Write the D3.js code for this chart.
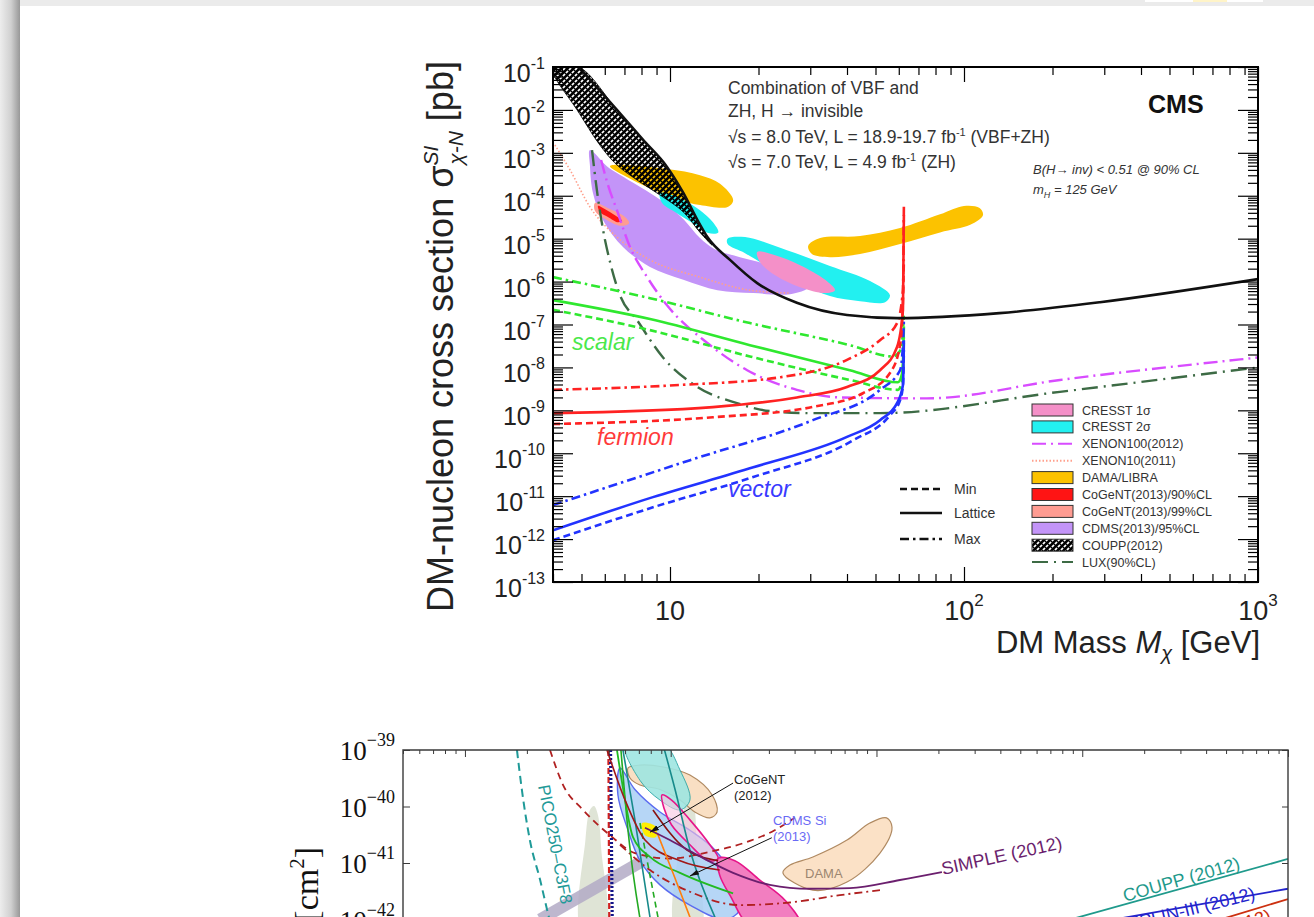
<!DOCTYPE html>
<html>
<head>
<meta charset="utf-8">
<script src="https://cdn.jsdelivr.net/npm/d3@7"></script>
<style>
  html, body { margin: 0; padding: 0; background: #ebebeb; overflow: hidden; }
  svg { display: block; }
  .sans { font-family: "Liberation Sans", Arial, Helvetica, sans-serif; }
  .serif { font-family: "Liberation Serif", "Times New Roman", serif; }
</style>
</head>
<body>
<svg id="page" width="1314" height="917"></svg>
<script>
// ===== upper panel (CMS, H -> invisible): [mass GeV, sigma pb] =====
const cmsObserved = [[4.9,1e-1],[6.6,1e-2],[8.1,2e-3],[9.77,4.7e-4],[11.1,1.16e-4],[12.4,2.7e-5],[13.4,1.09e-5],[16,3.2e-6],[19.8,9.2e-7],[27,3.2e-7],[40,1.66e-7],[59.2,1.41e-7],[132,1.84e-7],[290,3.3e-7],[1000,1.14e-6]];
const couppBand = [[4,0.1],[4.9,0.1],[6.6,1e-2],[8.1,2e-3],[9.77,4.7e-4],[11.1,1.16e-4],[12.4,2.7e-5],[13.4,1.09e-5],[13.9,7.1e-6],[12.65,1.4e-5],[11.1,4.2e-5],[9.25,1.04e-4],[7.9,2.1e-4],[6.6,5.2e-4],[5.78,1.5e-3],[4.83,1e-2],[4,7.2e-2]];
const damaLow = [[6.25,4.9e-4],[9.77,4.2e-4],[12.65,3e-4],[14.8,1.9e-4],[16.4,7.9e-5],[15.7,5.5e-5],[12.65,6.1e-5],[10.8,7.9e-5],[8.55,1.5e-4],[7.03,2.9e-4]];
const damaHigh = [[29.5,6.7e-6],[32.4,1.03e-5],[44.3,1.15e-5],[60.6,1.77e-5],[82.9,3.7e-5],[100,5.8e-5],[113,5.2e-5],[116,3.5e-5],[105,2.1e-5],[82.9,1.4e-5],[60.6,7.5e-6],[44.3,4.4e-6],[35,3.7e-6],[30.4,4.4e-6]];
const cdms2013 = [[5.34,1.16e-3],[6.1,4.9e-4],[6.6,3.4e-4],[8.55,1.16e-4],[10,5.5e-5],[11.2,2.7e-5],[12.65,1.03e-5],[14.2,5.7e-6],[17.3,3.7e-6],[21.9,2.4e-6],[26.6,1.4e-6],[29.5,7.4e-7],[25.6,5.1e-7],[19.2,5.4e-7],[14.5,6.3e-7],[11.1,1.1e-6],[8.55,2.2e-6],[6.92,6.4e-6],[5.92,2.7e-5],[5.47,1.16e-4],[5.34,5.2e-4]];
const cresst2Low = [[9.25,1.16e-4],[10.8,8.8e-5],[12.65,4.6e-5],[14,2.4e-5],[14.6,1.4e-5],[13.5,1.35e-5],[12.2,2.1e-5],[10.4,4.2e-5],[9.4,6.8e-5]];
const cresst2High = [[15.7,1e-5],[18,1.09e-5],[25,5.4e-6],[35,2.3e-6],[47.9,1.03e-6],[56,4.8e-7],[53.9,3.3e-7],[44.3,3.5e-7],[35,4.6e-7],[27.7,9.2e-7],[21.9,2.1e-6],[18,4.6e-6],[15.7,7.5e-6]];
const cresst1 = [[19.8,4.9e-6],[22.8,4.1e-6],[27.7,2.4e-6],[33.7,1.1e-6],[36.4,6.3e-7],[33.7,5.4e-7],[27.7,7.4e-7],[22.8,1.4e-6],[20.2,2.9e-6]];
const cogent90 = [[5.69,5.8e-5],[6.0,4.9e-5],[6.5,3.5e-5],[6.87,2.6e-5],[6.66,2.4e-5],[6.15,3.2e-5],[5.78,4.2e-5]];
const cogent99 = [[5.56,6.8e-5],[6.25,4.9e-5],[7.03,3.2e-5],[7.26,2.3e-5],[6.76,2e-5],[6.0,2.9e-5],[5.56,4.4e-5]];
const xenon10 = [[4.06,1.52e-3],[4.57,4e-4],[5.34,5.5e-5],[6.6,1.09e-5],[8.55,3.2e-6],[12.65,1.27e-6],[18.7,6.3e-7],[25.6,5.4e-7]];
const xenon100 = [[5.83,6.8e-4],[6.15,1.8e-4],[6.6,4.6e-5],[7.31,6.4e-6],[8.36,1.27e-6],[9.77,2.8e-7],[13.4,3.7e-8],[18.3,8.6e-9],[27,3e-9],[37.9,2e-9],[74.8,1.9e-9],[212,5.1e-9],[1000,1.7e-8]];
const lux = [[5.43,1.16e-3],[5.64,1.36e-4],[5.92,1.6e-5],[6.25,2.9e-6],[6.76,4.8e-7],[7.72,1.27e-7],[9.47,1.7e-8],[12.4,3.5e-9],[16.9,1.47e-9],[21.9,9.6e-10],[30.6,8.6e-10],[51.8,8.6e-10],[212,2.7e-9],[1000,1e-8]];
const scalarMin = [[4,2.2e-7],[8.55,7.4e-8],[18.7,1.8e-8],[40.9,5.1e-9],[59.6,3e-9],[61.5,4.5e-9],[62.2,1.5e-8],[62.45,5e-8]];
const scalarLattice = [[4,3.7e-7],[8.55,1.34e-7],[18.7,3.3e-8],[40.9,8.6e-9],[59.6,4.5e-9],[61.5,7e-9],[62.2,2.5e-8],[62.45,9e-8]];
const scalarMax = [[4,1.27e-6],[8.55,4.1e-7],[18.7,1.08e-7],[40.9,3.3e-8],[57.3,1.8e-8],[61,2.6e-8],[62,7e-8],[62.4,1.6e-7]];
const fermionMin = [[4,4.8e-10],[14,6.9e-10],[30.6,1.2e-9],[45.3,2.5e-9],[56,7.4e-9],[60.6,3.3e-8],[62,3.7e-7],[62.45,3.2e-6]];
const fermionLattice = [[4,8.6e-10],[14,1.19e-9],[27,2e-9],[40,3.5e-9],[51.8,8.6e-9],[59.2,3e-8],[62,2.2e-7],[62.45,3.5e-5]];
const fermionMax = [[4,3e-9],[10.8,3.9e-9],[23.7,5.9e-9],[40,1.5e-8],[51.8,4.3e-8],[59.2,1.08e-7],[62,6.3e-7],[62.45,6e-5]];
const vectorMin = [[4,9.4e-13],[8.75,5.5e-12],[19.2,2.8e-11],[41.9,2e-10],[56,7.7e-10],[60.6,1.7e-9],[62,3.9e-9],[62.45,2.5e-8]];
const vectorLattice = [[4,1.6e-12],[8.75,9.5e-12],[19.2,4.7e-11],[40,2.4e-10],[51.8,5.9e-10],[59.2,1.47e-9],[62,3.9e-9],[62.45,4.3e-8]];
const vectorMax = [[4,6.2e-12],[11.7,6.9e-11],[30.6,5.9e-10],[51.8,3e-9],[60.6,8.6e-9],[62,3.3e-8],[62.45,1.27e-7]];

const xTicks1 = [[10, "10", ""], [100, "10", "2"], [1000, "10", "3"]];
const yTickPowers1 = [-1, -2, -3, -4, -5, -6, -7, -8, -9, -10, -11, -12, -13];
const legendLabels = ["CRESST 1σ", "CRESST 2σ", "XENON100(2012)", "XENON10(2011)", "DAMA/LIBRA",
  "CoGeNT(2013)/90%CL", "CoGeNT(2013)/99%CL", "CDMS(2013)/95%CL", "COUPP(2012)", "LUX(90%CL)"];
const styleLabels = ["Min", "Lattice", "Max"];

// ===== lower panel (spin-dependent, partly visible): [mass GeV, sigma cm^2] =====
const pico250 = [[1.79,1e-39],[1.89,2e-40],[2.07,2.5e-41],[2.32,5e-42],[2.53,1.3e-42],[2.74,4.3e-43]];
const greyBlobA = [[3.7,6e-43],[3.85,2.55e-41],[4.05,8.7e-41],[4.24,1.02e-40],[4.43,7.1e-41],[4.6,1.7e-41],[4.8,6e-43]];
const greyBlobB = [[10.6,6e-43],[11.1,2.55e-41],[11.9,1.3e-40],[12.4,1.6e-40],[13,1.02e-40],[13.4,1.7e-41],[13.9,6e-43]];
const greyBand = [[2.32,1e-42],[7.9,1.28e-41]];
const beigeUpper = [[6.2,4.8e-40],[7.09,5.4e-40],[9.2,5e-40],[12.4,3.6e-40],[15.9,1.6e-40],[16.8,8e-41],[15.5,6.3e-41],[13.1,8e-41],[11.1,1.3e-40],[8.87,2e-40],[7.09,2.4e-40],[6.34,3.2e-40]];
const damaSD = [[35.1,6.7e-42],[49.1,3.3e-42],[71.9,4.6e-42],[104,1.5e-41],[119,4.3e-41],[112,6.3e-41],[92.9,5.1e-41],[71.9,2.55e-41],[49.1,1.28e-41],[38,9.2e-42]];
const cyanSD = [[6.0,1.3e-39],[9.2,1.3e-39],[11.1,4.4e-40],[12.4,1.3e-40],[11.1,8.7e-41],[8.87,1.3e-40],[7.09,2.9e-40]];
const cdmsSi = [[5.67,4.8e-40],[6.7,2e-40],[8.87,8e-41],[12.4,3.8e-41],[16.4,1.7e-41],[20.5,5e-42],[21.7,1.5e-42],[18.3,1e-42],[12.4,1.8e-42],[8.87,4.1e-42],[7.09,1.1e-41],[6.2,3.8e-41],[5.54,1.6e-40]];
const pinkOutline = [[9.07,1.6e-40],[10.1,1.3e-40],[12.4,5.8e-41],[15.5,2.1e-41],[17,1.2e-41],[15.2,1.1e-41],[12.4,2.1e-41],[10.1,4.7e-41],[9.27,9.4e-41]];
const pinkFilled = [[17,1.2e-41],[20.5,1.1e-41],[27.1,5e-42],[35.9,2.2e-42],[42.5,8e-43],[24.3,8e-43],[19.4,2.7e-42],[17.3,6.1e-42]];
const yellowSpot = [[7.25,5.1e-41],[8.4,4.5e-41],[8.5,2.9e-41],[7.5,3.1e-41]];
const navyDotted = [[5.1,1e-39],[5.2,8e-43]];
const redDashedVert = [[4.98,1e-39],[5.03,8e-43]];
const darkRedDashed = [[2.59,1e-39],[3.0,2.4e-40],[3.75,8.7e-41],[5.07,3.1e-41],[6.7,1.5e-41],[9.9,1.2e-41],[15.5,1.58e-41],[23,2.3e-41],[32,3.8e-41],[40,6.3e-41]];
const darkRedDashDot = [[5.67,2.1e-41],[7.93,7.5e-42],[12.4,3.1e-42],[21.7,1.8e-42],[38,2e-42],[66.4,2.7e-42],[104,3.3e-42]];
const greenA = [[5.73,1e-39],[6.2,3.8e-41],[7.25,6.5e-43]];
const greenB = [[5.48,1e-39],[6.0,1.3e-40],[6.55,2.9e-41],[7.93,1.28e-41],[11.1,6.7e-42],[20.1,2.9e-42]];
const greenDashed = [[7.09,5.1e-41],[8.67,1.1e-42]];
const tealA = [[9.2,1.2e-39],[10.5,2e-40],[12.4,1.7e-41],[16.4,1.1e-42]];
const tealB = [[5.86,1e-39],[6.7,5.8e-41],[7.93,1.1e-42]];
const maroonA = [[4.9,1e-39],[6.0,1.3e-40],[7.5,2.55e-41],[11.1,1.1e-41],[17.3,7.5e-42]];
const maroonB = [[8.2,8.7e-41],[12,1.7e-41],[17,1.1e-41]];
const orangeSD = [[8.6,3.4e-41],[10.25,6.7e-42],[12.4,1.1e-42]];
const simple2012 = [[7.5,4.2e-41],[9.9,2.55e-41],[13.4,1.4e-41],[20.1,6.7e-42],[30.3,4.1e-42],[47.5,3.5e-42],[74.3,3.6e-42],[130,5e-42],[208,6.9e-42]];
const coupp2012 = [[398,4.5e-43],[10000,1.18e-41]];
const zeplin2012 = [[697,6.3e-43],[10000,3.5e-42]];
const xenonSD = [[2133,4.2e-43],[10000,2.3e-42]];
const cogentArrow = [[20.1,2.6e-40],[7.93,3.5e-41]];
const cdmsArrow = [[31,2.8e-41],[12.4,5.9e-42]];
const yTickPowers2 = [-39, -40, -41, -42];

// ===== page =====
const svg = d3.select("#page");
const W = +svg.attr("width"), H = +svg.attr("height");
const defs = svg.append("defs");

const shade = defs.append("linearGradient").attr("id", "leftShade");
[["0", "#ededed"], ["0.55", "#d0d0d0"], ["1", "#989898"]].forEach(([o, c]) =>
  shade.append("stop").attr("offset", o).attr("stop-color", c));
svg.append("rect").attr("width", W).attr("height", H).attr("fill", "#ebebeb");
svg.append("rect").attr("width", 20).attr("height", H).attr("fill", "url(#leftShade)");
svg.append("rect").attr("x", 1145).attr("width", 118).attr("height", 2).attr("fill", "#fff");
svg.append("rect").attr("x", 1193).attr("width", 34).attr("height", 2).attr("fill", "#fff4c8");
svg.append("rect").attr("x", 20).attr("y", 6).attr("width", W - 20).attr("height", H - 6).attr("fill", "#fff");

// COUPP hatch: black cross-hatch with transparent holes so fills underneath show through
const hatch = defs.append("pattern").attr("id", "hatch")
  .attr("patternUnits", "userSpaceOnUse").attr("width", 6).attr("height", 6);
hatch.append("path").attr("d", "M0,6L6,0M-1,1L1,-1M5,7L7,5").attr("stroke", "#000").attr("stroke-width", 2.6);
hatch.append("path").attr("d", "M0,0L6,6M5,-1L7,1M-1,5L1,7").attr("stroke", "#000").attr("stroke-width", 1.3);

const arrow = defs.append("marker").attr("id", "arrow").attr("viewBox", "0 0 10 6")
  .attr("refX", 10).attr("refY", 3).attr("markerWidth", 9).attr("markerHeight", 6)
  .attr("markerUnits", "userSpaceOnUse").attr("orient", "auto");
arrow.append("path").attr("d", "M0,0L10,3L0,6Z").attr("fill", "#111");

function isDecade(v) { const l = Math.log10(v); return Math.abs(l - Math.round(l)) < 1e-6; }

function tickAxis(g, axisFn, scale, values, size) {
  g.call(axisFn(scale).tickValues(values).tickSize(size).tickFormat(""))
    .call(a => a.select(".domain").remove());
}

function drawPath(g, gen, data, fill, stroke, width, dash) {
  return g.append("path").datum(data).attr("d", gen)
    .attr("fill", fill || "none").attr("stroke", stroke || "none")
    .attr("stroke-width", width || 0).attr("stroke-dasharray", dash || null);
}

// ===== upper panel =====
const p1 = { left: 553, right: 1258, top: 67, bottom: 582 };
const x1 = d3.scaleLog().domain([4, 1000]).range([p1.left, p1.right]);
const y1 = d3.scaleLog().domain([1e-13, 1e-1]).range([p1.bottom, p1.top]);
defs.append("clipPath").attr("id", "clip1").append("rect")
  .attr("x", p1.left).attr("y", p1.top).attr("width", p1.right - p1.left).attr("height", p1.bottom - p1.top);

const g1 = svg.append("g").attr("class", "sans");
const plot1 = g1.append("g").attr("clip-path", "url(#clip1)");
const curve1 = d3.line().x(d => x1(d[0])).y(d => y1(d[1])).curve(d3.curveMonotoneX);
const blob1 = d3.line().x(d => x1(d[0])).y(d => y1(d[1])).curve(d3.curveCatmullRomClosed.alpha(0.5));

const colors = {
  dama: "#fcc200", cdms: "#c394f8", cresst2: "#22f0f0", cresst1: "#f490c8",
  cogent90: "#ff1414", cogent99: "#ff9c92", xenon100: "#d84cff", xenon10: "#ffa08c",
  lux: "#3d6b45", scalar: "#2fe82f", fermion: "#ff2222", vector: "#2233ff"
};
const dashMin = "7,4", dashMax = "9,4,2.5,4";

drawPath(plot1, blob1, damaLow, colors.dama);
drawPath(plot1, blob1, damaHigh, colors.dama);
drawPath(plot1, blob1, cdms2013, colors.cdms);
drawPath(plot1, blob1, cresst2Low, colors.cresst2);
drawPath(plot1, blob1, cresst2High, colors.cresst2);
drawPath(plot1, blob1, cresst1, colors.cresst1);
drawPath(plot1, blob1, cogent99, colors.cogent99);
drawPath(plot1, blob1, cogent90, colors.cogent90);
drawPath(plot1, blob1, couppBand, "url(#hatch)", "#000", 0.8);

drawPath(plot1, curve1, xenon10, null, colors.xenon10, 1.6, "1.5,2");
drawPath(plot1, curve1, xenon100, null, colors.xenon100, 2.4, "14,5,2,5");
drawPath(plot1, curve1, lux, null, colors.lux, 2.4, "16,6,2,6");

[[scalarMax, "scalar", dashMax], [scalarLattice, "scalar", null], [scalarMin, "scalar", dashMin],
 [vectorMax, "vector", dashMax], [vectorLattice, "vector", null], [vectorMin, "vector", dashMin],
 [fermionMax, "fermion", dashMax], [fermionLattice, "fermion", null], [fermionMin, "fermion", dashMin]]
  .forEach(([d, c, dash]) => drawPath(plot1, curve1, d, null, colors[c], 2.6, dash));

drawPath(plot1, curve1, cmsObserved, null, "#111", 2.6);

// frame and ticks
g1.append("rect").attr("x", p1.left).attr("y", p1.top)
  .attr("width", p1.right - p1.left).attr("height", p1.bottom - p1.top)
  .attr("fill", "none").attr("stroke", "#000").attr("stroke-width", 2);
const xAll1 = x1.ticks(), yAll1 = y1.ticks(20);
const xMaj1 = xAll1.filter(isDecade), xMin1 = xAll1.filter(v => !isDecade(v));
const yMaj1 = yAll1.filter(isDecade), yMin1 = yAll1.filter(v => !isDecade(v));
const axes1 = g1.append("g").attr("color", "#000").attr("stroke-width", 1.2);
tickAxis(axes1.append("g").attr("transform", `translate(0,${p1.bottom})`), d3.axisBottom, x1, xMaj1, -15);
tickAxis(axes1.append("g").attr("transform", `translate(0,${p1.bottom})`), d3.axisBottom, x1, xMin1, -8);
tickAxis(axes1.append("g").attr("transform", `translate(0,${p1.top})`), d3.axisTop, x1, xMaj1, -15);
tickAxis(axes1.append("g").attr("transform", `translate(0,${p1.top})`), d3.axisTop, x1, xMin1, -8);
tickAxis(axes1.append("g").attr("transform", `translate(${p1.left},0)`), d3.axisLeft, y1, yMaj1, -20);
tickAxis(axes1.append("g").attr("transform", `translate(${p1.left},0)`), d3.axisLeft, y1, yMin1, -10);
tickAxis(axes1.append("g").attr("transform", `translate(${p1.right},0)`), d3.axisRight, y1, yMaj1, -20);
tickAxis(axes1.append("g").attr("transform", `translate(${p1.right},0)`), d3.axisRight, y1, yMin1, -10);

// tick labels
yTickPowers1.forEach(p => {
  const t = g1.append("text").attr("x", 545).attr("y", y1(Math.pow(10, p)) + 15)
    .attr("text-anchor", "end").attr("fill", "#222");
  t.append("tspan").attr("font-size", 25).text("10");
  t.append("tspan").attr("font-size", 16).attr("dy", -13).text(String(p));
});
xTicks1.forEach(([v, base, exp]) => {
  const t = g1.append("text").attr("x", x1(v)).attr("y", 620)
    .attr("text-anchor", "middle").attr("fill", "#222");
  t.append("tspan").attr("font-size", 27).text(base);
  if (exp) t.append("tspan").attr("font-size", 17).attr("dy", -14).text(exp);
});

// axis titles
const xt = g1.append("text").attr("x", 1260).attr("y", 653).attr("text-anchor", "end")
  .attr("font-size", 31).attr("fill", "#222");
xt.append("tspan").text("DM Mass ");
xt.append("tspan").attr("font-style", "italic").text("M");
xt.append("tspan").attr("font-style", "italic").attr("font-size", 20).attr("dy", 7).text("χ");
xt.append("tspan").attr("dy", -7).text(" [GeV]");

const yt = g1.append("text").attr("transform", "translate(453,612) rotate(-90)")
  .attr("font-size", 36).attr("fill", "#222");
yt.append("tspan").text("DM-nucleon cross section σ");
yt.append("tspan").attr("font-size", 21).attr("font-style", "italic").attr("dy", -15).text("SI");
yt.append("tspan").attr("font-size", 21).attr("font-style", "italic").attr("dx", -19).attr("dy", 25).text("χ-N");
yt.append("tspan").attr("dy", -10).text(" [pb]");

// annotations
const ann = g1.append("g").attr("font-size", 17.5).attr("fill", "#333");
ann.append("text").attr("x", 728).attr("y", 94).text("Combination of VBF and");
ann.append("text").attr("x", 728).attr("y", 117).text("ZH, H → invisible");
[[143, "8.0", "18.9-19.7", " (VBF+ZH)"], [168, "7.0", "4.9", " (ZH)"]].forEach(([yy, e, l, tag]) => {
  const t = ann.append("text").attr("x", 728).attr("y", yy);
  t.append("tspan").text(`√s = ${e} TeV, L = ${l} fb`);
  t.append("tspan").attr("font-size", 11).attr("dy", -7).text("-1");
  t.append("tspan").attr("dy", 7).text(tag);
});
g1.append("text").attr("x", 1148).attr("y", 113).attr("font-size", 25).attr("font-weight", "bold")
  .attr("fill", "#111").text("CMS");
const br = g1.append("g").attr("font-size", 13).attr("font-style", "italic").attr("fill", "#333");
br.append("text").attr("x", 1033).attr("y", 174).text("B(H→ inv) < 0.51 @ 90% CL");
const mh = br.append("text").attr("x", 1033).attr("y", 194);
mh.append("tspan").text("m");
mh.append("tspan").attr("font-size", 9).attr("dy", 4).text("H");
mh.append("tspan").attr("dy", -4).text(" = 125 GeV");

g1.append("text").attr("x", 572).attr("y", 350).attr("font-size", 23).attr("font-style", "italic")
  .attr("fill", "#4be84b").text("scalar");
g1.append("text").attr("x", 597).attr("y", 445).attr("font-size", 23).attr("font-style", "italic")
  .attr("fill", "#ff3a3a").text("fermion");
g1.append("text").attr("x", 728).attr("y", 497).attr("font-size", 23).attr("font-style", "italic")
  .attr("fill", "#3a3aff").text("vector");

// legends
const legendStyle = [
  { fill: colors.cresst1 }, { fill: colors.cresst2 },
  { stroke: colors.xenon100, dash: "14,5,2,5" }, { stroke: colors.xenon10, dash: "1.5,2" },
  { fill: colors.dama }, { fill: colors.cogent90 }, { fill: colors.cogent99 },
  { fill: colors.cdms }, { fill: "url(#hatch)" }, { stroke: colors.lux, dash: "16,6,2,6" }
];
const leg = g1.append("g");
legendLabels.forEach((lab, i) => {
  const yy = 410 + i * 16.9, s = legendStyle[i];
  if (s.fill) {
    leg.append("rect").attr("x", 1032).attr("y", yy - 6).attr("width", 41).attr("height", 12)
      .attr("fill", s.fill).attr("stroke", "#333").attr("stroke-width", 1);
  } else {
    leg.append("line").attr("x1", 1032).attr("x2", 1073).attr("y1", yy).attr("y2", yy)
      .attr("stroke", s.stroke).attr("stroke-width", 2).attr("stroke-dasharray", s.dash);
  }
  leg.append("text").attr("x", 1082).attr("y", yy + 4.5).attr("font-size", 12.5)
    .attr("fill", "#333").text(lab);
});
styleLabels.forEach((lab, i) => {
  const yy = [489, 513, 539][i];
  leg.append("line").attr("x1", 900).attr("x2", 942).attr("y1", yy).attr("y2", yy)
    .attr("stroke", "#111").attr("stroke-width", 2.6)
    .attr("stroke-dasharray", [dashMin, null, dashMax][i]);
  leg.append("text").attr("x", 954).attr("y", yy + 5).attr("font-size", 14)
    .attr("fill", "#333").text(lab);
});

// ===== lower panel =====
const p2 = { left: 403, right: 1288, top: 750, bottom: 1145.5 };
const x2 = d3.scaleLog().domain([0.5, 1e4]).range([p2.left, p2.right]);
const y2 = d3.scaleLog().domain([1e-46, 1e-39]).range([p2.bottom, p2.top]);
defs.append("clipPath").attr("id", "clip2").append("rect")
  .attr("x", p2.left).attr("y", p2.top).attr("width", p2.right - p2.left).attr("height", H - p2.top);

const g2 = svg.append("g").attr("class", "sans");
const plot2 = g2.append("g").attr("clip-path", "url(#clip2)");
const curve2 = d3.line().x(d => x2(d[0])).y(d => y2(d[1])).curve(d3.curveMonotoneX);
const straight2 = d3.line().x(d => x2(d[0])).y(d => y2(d[1]));
const blob2 = d3.line().x(d => x2(d[0])).y(d => y2(d[1])).curve(d3.curveCatmullRomClosed.alpha(0.5));

drawPath(plot2, blob2, greyBlobA, "#dfe4d6");
drawPath(plot2, blob2, greyBlobB, "#dfe4d6");
drawPath(plot2, straight2, greyBand, null, "#b3aac6", 12).attr("opacity", 0.85);
drawPath(plot2, blob2, beigeUpper, "#f9dfc3", "#b08a62", 1.2);
drawPath(plot2, blob2, damaSD, "#fbe1c6", "#b08a62", 1.2);
drawPath(plot2, blob2, cyanSD, "#9fe6e2", "#2ba7a7", 1).attr("opacity", 0.9);
drawPath(plot2, blob2, cdmsSi, "#a9cff5", "#5b6cf0", 1.4).attr("fill-opacity", 0.85);
drawPath(plot2, blob2, pinkOutline, "#f8c4df", "#e6168a", 1.6).attr("fill-opacity", 0.6);
drawPath(plot2, blob2, pinkFilled, "#f27ec0", "#e6168a", 1.6);
drawPath(plot2, blob2, yellowSpot, "#ffee00");

drawPath(plot2, curve2, pico250, null, "#1f9a98", 2, "8,5");
drawPath(plot2, curve2, darkRedDashed, null, "#b02020", 1.8, "7,5");
drawPath(plot2, curve2, darkRedDashDot, null, "#b02020", 1.8, "8,4,2,4");
drawPath(plot2, straight2, redDashedVert, null, "#d02020", 2.2, "6,3");
drawPath(plot2, straight2, navyDotted, null, "#141488", 3.2, "2,2");
drawPath(plot2, curve2, tealB, null, "#178a8a", 1.6);
drawPath(plot2, curve2, tealA, null, "#178a8a", 1.6);
drawPath(plot2, curve2, greenA, null, "#22aa22", 1.6);
drawPath(plot2, curve2, greenB, null, "#22bb22", 1.8);
drawPath(plot2, straight2, greenDashed, null, "#22aa22", 1.6, "6,4");
drawPath(plot2, curve2, maroonA, null, "#a01818", 1.6);
drawPath(plot2, curve2, maroonB, null, "#8a1010", 1.6);
drawPath(plot2, curve2, orangeSD, null, "#ff7f0e", 1.6);
drawPath(plot2, curve2, simple2012, null, "#6b1f6e", 1.8);
drawPath(plot2, straight2, coupp2012, null, "#1f9a8c", 1.8);
drawPath(plot2, straight2, zeplin2012, null, "#2424cc", 1.8);
drawPath(plot2, straight2, xenonSD, null, "#cc3010", 1.8);

drawPath(g2, straight2, cogentArrow, null, "#111", 1).attr("marker-end", "url(#arrow)");
drawPath(g2, straight2, cdmsArrow, null, "#111", 1).attr("marker-end", "url(#arrow)");

// frame and ticks
g2.append("path").attr("d", `M${p2.left},${H}V${p2.top}H${p2.right}V${H}`)
  .attr("fill", "none").attr("stroke", "#3a3a3a").attr("stroke-width", 1.4);
const xAll2 = x2.ticks();
const axes2 = g2.append("g").attr("color", "#3a3a3a").attr("stroke-width", 1);
tickAxis(axes2.append("g").attr("transform", `translate(0,${p2.top})`), d3.axisTop, x2, xAll2.filter(isDecade), -7);
tickAxis(axes2.append("g").attr("transform", `translate(0,${p2.top})`), d3.axisTop, x2, xAll2.filter(v => !isDecade(v)), -4);
const yMaj2 = yTickPowers2.map(p => Math.pow(10, p));
tickAxis(axes2.append("g").attr("transform", `translate(${p2.left},0)`), d3.axisLeft, y2, yMaj2, -7);
tickAxis(axes2.append("g").attr("transform", `translate(${p2.right},0)`), d3.axisRight, y2, yMaj2, -6);

yTickPowers2.forEach(p => {
  const t = g2.append("text").attr("class", "serif").attr("x", 395).attr("y", y2(Math.pow(10, p)) + 10)
    .attr("text-anchor", "end").attr("fill", "#111");
  t.append("tspan").attr("font-size", 27).text("10");
  t.append("tspan").attr("font-size", 18).attr("dy", -14).text("−" + String(-p));
});
const yt2 = g2.append("text").attr("class", "serif").attr("transform", "translate(318,847) rotate(-90)")
  .attr("text-anchor", "end").attr("font-size", 34).attr("fill", "#111");
yt2.append("tspan").text("[cm");
yt2.append("tspan").attr("font-size", 21).attr("dy", -14).text("2");
yt2.append("tspan").attr("dy", 14).text("]");

// lower panel labels
const lab2 = g2.append("g").attr("font-size", 13);
lab2.append("text").attr("x", 734).attr("y", 784).attr("fill", "#222").text("CoGeNT");
lab2.append("text").attr("x", 734).attr("y", 800).attr("fill", "#222").text("(2012)");
lab2.append("text").attr("x", 773).attr("y", 825).attr("fill", "#6a6af5").text("CDMS Si");
lab2.append("text").attr("x", 773).attr("y", 841).attr("fill", "#6a6af5").text("(2013)");
lab2.append("text").attr("x", 805).attr("y", 878).attr("fill", "#9c8670").text("DAMA");
g2.append("text").attr("transform", "translate(538,786) rotate(79)").attr("font-size", 17)
  .attr("fill", "#1f9a98").text("PICO250–C3F8");
g2.append("text").attr("transform", "translate(943,875) rotate(-12.5)").attr("font-size", 18)
  .attr("fill", "#6b1f6e").text("SIMPLE (2012)");
g2.append("text").attr("transform", "translate(1125,902) rotate(-16)").attr("font-size", 18)
  .attr("fill", "#1f9a8c").text("COUPP (2012)");
g2.append("text").attr("transform", "translate(1256,899) rotate(-14)").attr("text-anchor", "end")
  .attr("font-size", 18).attr("fill", "#2424cc").text("ZEPLIN-III (2012)");
g2.append("text").attr("transform", "translate(1272,921) rotate(-16)").attr("text-anchor", "end")
  .attr("font-size", 18).attr("fill", "#cc3010").text("XENON100 (2012)");
</script>
</body>
</html>
